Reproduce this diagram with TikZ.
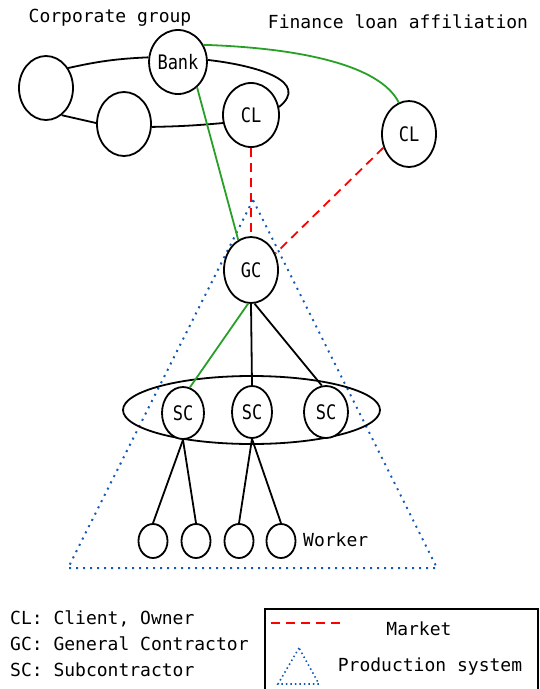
\documentclass[tikz,border=0pt]{standalone}
\usepackage{fontspec}
\setmainfont{DejaVu Sans Mono}
\newfontfamily\lblfont[FakeStretch=0.85]{DejaVu Sans Mono}
\usetikzlibrary{shapes.geometric}
\definecolor{grn}{RGB}{40,160,40}
\definecolor{dotblue}{RGB}{20,90,180}
\tikzset{
  circ/.style={ellipse, draw, line width=1.8pt, fill=white, inner sep=0pt,
    font=\lblfont\fontsize{20}{20}\selectfont},
  grpell/.style={ellipse, draw, line width=1.8pt, inner sep=0pt},
  blk/.style={draw=black, line width=1.8pt},
  grnline/.style={draw=grn, line width=1.8pt},
  mkt/.style={draw=red, line width=1.8pt, dash pattern=on 9pt off 6pt},
  prod/.style={draw=dotblue, line width=2pt, dash pattern=on 2pt off 5pt},
  txt/.style={font=\fontsize{18}{18}\selectfont, inner sep=0pt},
}
\begin{document}
\begin{tikzpicture}[x=1pt,y=-1pt]
\useasboundingbox (0,0) rectangle (539,689);

% production system triangle
\coordinate (apex) at (253,200);
\coordinate (bl) at (68,568);
\coordinate (br) at (437,568);
\draw[prod] (apex) -- (bl) -- (br) -- cycle;

% nodes
\node[circ, minimum width=54pt, minimum height=64pt] (left) at (46,88) {};
\node[circ, minimum width=52pt, minimum height=64pt] (bank) at (178,62) {Bank};
\node[circ, minimum width=54pt, minimum height=64pt] (mid) at (124,124) {};
\node[circ, minimum width=56pt, minimum height=64pt] (cl1) at (251,115) {CL};
\node[circ, minimum width=54pt, minimum height=66pt] (cl2) at (409,134) {CL};
\node[circ, minimum width=54pt, minimum height=66pt] (gc) at (251,270) {GC};

\node[grpell, minimum width=257pt, minimum height=68pt] (scg) at (251.5,410) {};
\node[circ, minimum width=42pt, minimum height=52pt] (sc1) at (183,413) {SC};
\node[circ, minimum width=40pt, minimum height=52pt] (sc2) at (252,412) {SC};
\node[circ, minimum width=44pt, minimum height=52pt] (sc3) at (326,412) {SC};

\node[circ, minimum width=29pt, minimum height=34pt] (w1) at (153,541) {};
\node[circ, minimum width=29pt, minimum height=34pt] (w2) at (196,541) {};
\node[circ, minimum width=29pt, minimum height=34pt] (w3) at (239,541) {};
\node[circ, minimum width=29pt, minimum height=34pt] (w4) at (281,541) {};

% corporate group loop
\draw[blk] (left.42) to[bend left=5] (bank.171);
\draw[blk] (bank.4) .. controls (260,66) and (310,82) .. (cl1.16);
\draw[blk] (cl1.196) to[bend left=2] (mid.-6);
\draw[blk] (mid.178) -- (left.-60);

% finance loan affiliation
\draw[grnline] (bank.34) .. controls (300,48) and (380,65) .. (cl2.108);
\draw[grnline] (bank.-53) -- (gc.113);

% market
\draw[mkt] (cl1.south) -- (gc.north);
\draw[mkt] (cl2.208) -- (gc.34);

% GC to SCs
\draw[grnline] (gc.-95) -- (sc1.75);
\draw[blk] (gc.south) -- (sc2.north);
\draw[blk] (gc.-84) -- (sc3.99);

% SC to workers
\draw[blk] (sc1.south) -- (w1.north);
\draw[blk] (sc1.south) -- (w2.north);
\draw[blk] (sc2.south) -- (w3.north);
\draw[blk] (sc2.south) -- (w4.north);

% labels
\node[txt] (tcorp) at (110,18) {Corporate group};
\node[txt] (tfin) at (398,22) {Finance loan affiliation};
\node[txt, anchor=west] (twork) at (303,540) {Worker};

% legend text
\node[txt, anchor=west] (k1) at (10,619) {CL: Client, Owner};
\node[txt, anchor=west] (k2) at (10,644) {GC: General Contractor};
\node[txt, anchor=west] (k3) at (10,670) {SC: Subcontractor};

% legend box
\draw[line width=1.5pt] (265,609) rectangle (538,694);
\coordinate (m1) at (271,623);
\coordinate (m2) at (344,623);
\draw[mkt] (m1) -- (m2);
\node[txt] (tmkt) at (419,629) {Market};
\coordinate (ta) at (299,648);
\coordinate (tb) at (278,684);
\coordinate (tc) at (319,684);
\draw[prod, line width=1.6pt, dash pattern=on 1.5pt off 3pt] (ta) -- (tb) -- (tc) -- cycle;
\node[txt] (tprod) at (430,667) {Production system};
\end{tikzpicture}
\end{document}
